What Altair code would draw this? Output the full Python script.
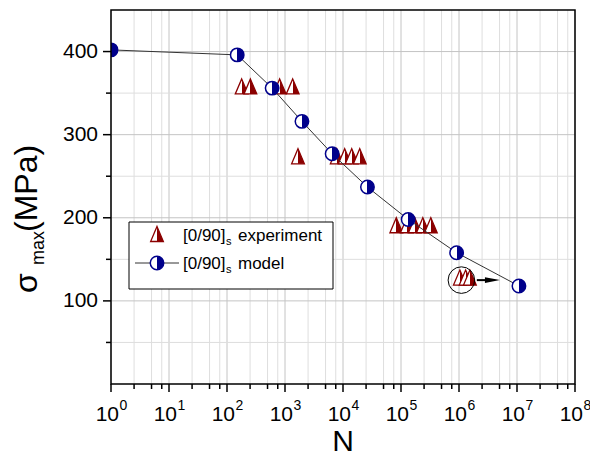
import altair as alt
import pandas as pd

# ---------------- data ----------------
model_N = [1, 150, 600, 1960, 6500, 26400, 133000, 910000, 10800000]
model_S = [402, 396, 356, 316, 277, 237, 198, 158, 118]

exp_N = [179, 253, 809, 1357,
         1675, 7800, 10700, 14150, 19450,
         83000, 126000, 173000, 238000, 327000,
         1035000, 1300000, 1540000]
exp_S = [358, 358, 358, 358,
         274, 274, 274, 274, 274,
         191, 191, 191, 191, 191,
         128, 128, 128]

x_major = [1, 10, 100, 1000, 10000, 100000, 1000000, 10000000, 100000000]
x_exp = ["0", "1", "2", "3", "4", "5", "6", "7", "8"]
x_minor = [m * 10 ** k for k in range(8) for m in (2.5, 5, 7.5)]
y_major = [100, 200, 300, 400]
y_minor = [50, 150, 250, 350]

circle_N = [1100000]
circle_S = [125]
arrow_N = [2030000, 3300000]
arrow_S = [125, 125]
head_N = [3770000]
head_S = [125]

# ---------------- style ----------------
NAVY = "#00008b"
RED = "#8b0000"
FONT = "Liberation Sans"
W, H = 464, 374
OX, OY = 111, 10  # plot origin in the page

xs = alt.Scale(type="log", domain=[1, 1e8])
ys = alt.Scale(domain=[0, 450])


def grad(c):
    return alt.Gradient(
        gradient="linear",
        stops=[alt.GradientStop(color="white", offset=0),
               alt.GradientStop(color="white", offset=0.5),
               alt.GradientStop(color=c, offset=0.5),
               alt.GradientStop(color=c, offset=1)],
        x1=0, x2=1, y1=0, y2=0)


TRI = "M0,-1L0.85,1L-0.85,1Z"
HEAD = "M-1,-0.38L1,0L-1,0.38Z"

df_model = pd.DataFrame({"N": model_N, "S": model_S})
df_exp = pd.DataFrame({"N": exp_N, "S": exp_S})
df_xmaj = pd.DataFrame({"N": x_major, "e": x_exp})
df_xmin = pd.DataFrame({"N": x_minor})
df_ymaj = pd.DataFrame({"S": y_major})
df_ymin = pd.DataFrame({"S": y_minor})

X = alt.X("N:Q", scale=xs, axis=None)
Y = alt.Y("S:Q", scale=ys, axis=None)

# grids
gx_min = alt.Chart(df_xmin).mark_rule(color="#dedede", strokeWidth=1).encode(x=X)
gx_maj = alt.Chart(df_xmaj).mark_rule(color="#c4c4c4", strokeWidth=1).encode(x=X)
gy_min = alt.Chart(df_ymin).mark_rule(color="#dedede", strokeWidth=1).encode(y=Y)
gy_maj = alt.Chart(df_ymaj).mark_rule(color="#c4c4c4", strokeWidth=1).encode(y=Y)

# frame
frame = alt.Chart(pd.DataFrame({"a": [0]})).mark_rect(
    fill=None, stroke="black", strokeWidth=1.5).encode(
    x=alt.value(0), x2=alt.value(W), y=alt.value(0), y2=alt.value(H))

# ticks
tx_maj = alt.Chart(df_xmaj).mark_rule(color="black", strokeWidth=1.5).encode(
    x=X, y=alt.value(H), y2=alt.value(H + 8))
tx_min = alt.Chart(df_xmin).mark_rule(color="black", strokeWidth=1.5).encode(
    x=X, y=alt.value(H), y2=alt.value(H + 5))
ty_maj = alt.Chart(df_ymaj).mark_rule(color="black", strokeWidth=1.5).encode(
    y=Y, x=alt.value(-8), x2=alt.value(0))
ty_min = alt.Chart(df_ymin).mark_rule(color="black", strokeWidth=1.5).encode(
    y=Y, x=alt.value(-5), x2=alt.value(0))

# tick labels
lx_base = alt.Chart(df_xmaj).mark_text(
    text="10", font=FONT, fontSize=21, align="right", baseline="alphabetic",
    dx=8, color="black").encode(x=X, y=alt.value(421 - OY))
lx_exp = alt.Chart(df_xmaj).mark_text(
    font=FONT, fontSize=14, align="left", baseline="alphabetic",
    dx=8.5, color="black").encode(x=X, y=alt.value(410 - OY), text="e:N")
ly = alt.Chart(df_ymaj).mark_text(
    font=FONT, fontSize=21, align="right", baseline="middle",
    dx=-13, color="black").encode(y=Y, x=alt.value(0), text=alt.Text("S:Q"))

# axis titles
tN = alt.Chart(pd.DataFrame({"t": ["N"]})).mark_text(
    font=FONT, fontSize=30, align="center", baseline="alphabetic").encode(
    x=alt.value(W / 2), y=alt.value(451 - OY), text="t:N")


def rot(txt, xa, ya, size):
    return alt.Chart(pd.DataFrame({"t": [txt]})).mark_text(
        font=FONT, fontSize=size, align="left", baseline="alphabetic",
        angle=270).encode(x=alt.value(xa - OX), y=alt.value(ya - OY), text="t:N")


t_sig = rot("σ", 37, 293, 32)
t_max = rot("max", 44, 265, 18)
t_mpa = rot("(MPa)", 37, 232, 32)

# model line + points
mline = alt.Chart(df_model).mark_line(color="#333333", strokeWidth=1, clip=True).encode(
    x=X, y=Y, order="N:Q")
mpts = alt.Chart(df_model).mark_point(
    shape="circle", size=180, filled=True, fill=grad(NAVY), fillOpacity=1,
    stroke=NAVY, strokeWidth=1.5, opacity=1, clip=True).encode(x=X, y=Y)

# experiments
epts = alt.Chart(df_exp).mark_point(
    shape=TRI, size=225, filled=True, fill=grad(RED), fillOpacity=1,
    stroke=RED, strokeWidth=1.3, opacity=1).encode(x=X, y=Y)

# annotation
ann_c = alt.Chart(pd.DataFrame({"N": circle_N, "S": circle_S})).mark_point(
    shape="circle", size=707, filled=False, stroke="black", strokeWidth=1,
    opacity=1).encode(x=X, y=Y)
ann_l = alt.Chart(pd.DataFrame({"N": arrow_N, "S": arrow_S})).mark_line(
    color="black", strokeWidth=2).encode(x=X, y=Y)
ann_h = alt.Chart(pd.DataFrame({"N": head_N, "S": head_S})).mark_point(
    shape=HEAD, size=225, filled=True, color="black", opacity=1).encode(x=X, y=Y)

# legend
leg_box = alt.Chart(pd.DataFrame({"a": [0]})).mark_rect(
    fill="white", stroke="black", strokeWidth=1).encode(
    x=alt.value(129 - OX), x2=alt.value(333 - OX),
    y=alt.value(222 - OY), y2=alt.value(289 - OY))
leg_tri = alt.Chart(pd.DataFrame({"a": [0]})).mark_point(
    shape=TRI, size=225, filled=True, fill=grad(RED), fillOpacity=1,
    stroke=RED, strokeWidth=1.3, opacity=1).encode(
    x=alt.value(157 - OX), y=alt.value(234 - OY))
leg_line = alt.Chart(pd.DataFrame({"a": [0]})).mark_rule(
    color="#333333", strokeWidth=1).encode(
    x=alt.value(135 - OX), x2=alt.value(179 - OX), y=alt.value(263 - OY))
leg_circ = alt.Chart(pd.DataFrame({"a": [0]})).mark_point(
    shape="circle", size=180, filled=True, fill=grad(NAVY), fillOpacity=1,
    stroke=NAVY, strokeWidth=1.5, opacity=1).encode(
    x=alt.value(157 - OX), y=alt.value(263 - OY))


def ltxt(txt, xa, ya, size):
    return alt.Chart(pd.DataFrame({"t": [txt]})).mark_text(
        font=FONT, fontSize=size, align="left", baseline="alphabetic",
        color="black").encode(x=alt.value(xa - OX), y=alt.value(ya - OY), text="t:N")


legend_texts = [
    ltxt("[0/90]", 183, 241, 17), ltxt("s", 226, 245, 11), ltxt("experiment", 238, 241, 17),
    ltxt("[0/90]", 183, 269, 17), ltxt("s", 226, 273, 11), ltxt("model", 238, 269, 17),
]

chart = alt.layer(
    gx_min, gx_maj, gy_min, gy_maj,
    epts, mline, mpts, ann_c, ann_l, ann_h,
    leg_box, leg_line, leg_circ, leg_tri, *legend_texts,
    frame, tx_maj, tx_min, ty_maj, ty_min,
    lx_base, lx_exp, ly, tN, t_sig, t_max, t_mpa,
).properties(
    width=W, height=H,
    autosize=alt.AutoSizeParams(type="none"),
    padding={"left": OX, "top": OY, "right": 590 - OX - W, "bottom": 457 - OY - H},
    background="white",
).configure_view(stroke=None)

chart.save("out.html", embed_options={"renderer": "svg", "actions": False})
